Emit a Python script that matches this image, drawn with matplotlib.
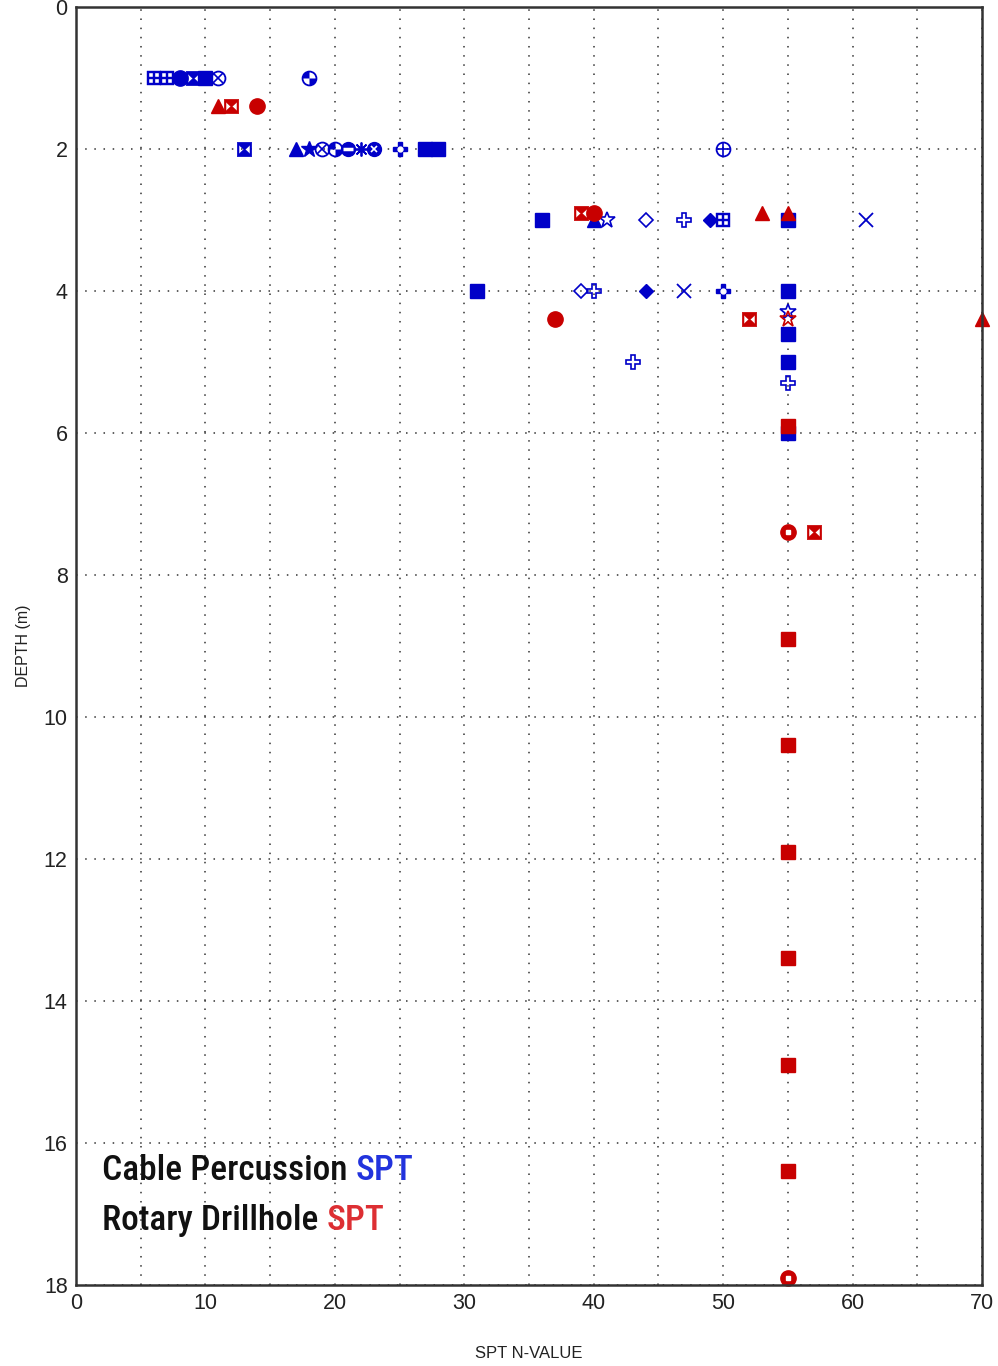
import matplotlib
matplotlib.use('Agg')
import matplotlib.pyplot as plt
import numpy as np
from matplotlib.path import Path

# SPT results: N-value, depth (m) and the borehole symbol used for each test
cable_n = [6, 7, 8, 9, 10, 11, 18,
           13, 17, 18, 19, 20, 21, 22, 23, 25, 27, 28, 50,
           36, 40, 41, 44, 47, 49, 50, 55, 61,
           31, 39, 40, 44, 47, 50, 55,
           55, 55, 55, 43, 55, 55]
cable_depth = [1.0, 1.0, 1.0, 1.0, 1.0, 1.0, 1.0,
               2.0, 2.0, 2.0, 2.0, 2.0, 2.0, 2.0, 2.0, 2.0, 2.0, 2.0, 2.0,
               3.0, 3.0, 3.0, 3.0, 3.0, 3.0, 3.0, 3.0, 3.0,
               4.0, 4.0, 4.0, 4.0, 4.0, 4.0, 4.0,
               4.3, 4.6, 5.0, 5.0, 5.3, 6.0]
cable_sym = ['sqdot', 'sqdot', 'circ', 'bow', 'sq', 'circx', 'quart',
             'bow', 'tri', 'star', 'circx', 'quart', 'circband', 'aster', 'circfill', 'flower_f', 'sq', 'sq', 'circplus',
             'sq', 'tri', 'star_o', 'dia_o', 'flower_o', 'dia', 'sqdot', 'sq', 'xx',
             'sq', 'dia_o', 'flower_o', 'dia', 'xx', 'flower_f', 'sq',
             'star_o', 'sq', 'sq', 'flower_o', 'flower_o', 'sq']

rotary_n = [11, 12, 14,
            39, 40, 53, 55,
            37, 52, 55, 70,
            55, 55, 57,
            55, 55, 55, 55, 55, 55, 55]
rotary_depth = [1.4, 1.4, 1.4,
                2.9, 2.9, 2.9, 2.9,
                4.4, 4.4, 4.4, 4.4,
                5.9, 7.4, 7.4,
                8.9, 10.4, 11.9, 13.4, 14.9, 16.4, 17.9]
rotary_sym = ['tri', 'bow', 'circ',
              'bow', 'circ', 'tri', 'tri',
              'circ', 'bow', 'star_o', 'tri',
              'sq', 'circdot', 'bow',
              'sq', 'sq', 'sq', 'sq', 'sq', 'sq', 'circdot']

BLUE = '#0000c8'
RED = '#c80000'

plt.rcParams['font.family'] = ['Liberation Sans', 'DejaVu Sans']


def square_with_holes(holes):
    # outer square counter-clockwise, holes clockwise so they stay empty
    verts = [(-1, -1), (1, -1), (1, 1), (-1, 1), (-1, -1)]
    codes = [Path.MOVETO] + [Path.LINETO] * 3 + [Path.CLOSEPOLY]
    for h in holes:
        h = list(h)[::-1]
        verts += h + [h[0]]
        codes += [Path.MOVETO] + [Path.LINETO] * (len(h) - 1) + [Path.CLOSEPOLY]
    return Path(verts, codes)


BOWTIE = square_with_holes([
    [(-0.75, -0.6), (-0.1, 0.0), (-0.75, 0.6)],
    [(0.75, 0.6), (0.1, 0.0), (0.75, -0.6)],
])
SQDOT = square_with_holes([
    [(-0.7, 0.2), (-0.2, 0.2), (-0.2, 0.7), (-0.7, 0.7)],
    [(0.2, 0.2), (0.7, 0.2), (0.7, 0.7), (0.2, 0.7)],
    [(-0.7, -0.7), (-0.2, -0.7), (-0.2, -0.2), (-0.7, -0.2)],
    [(0.2, -0.7), (0.7, -0.7), (0.7, -0.2), (0.2, -0.2)],
])
QUART = Path.make_compound_path(Path.wedge(90, 180), Path.wedge(270, 360))


def layers(sym, c):
    ring = dict(marker='o', ms=10, mfc='none', mec=c, mew=1.3)
    table = {
        'sq': [dict(marker='s', ms=10.5, mfc=c, mec=c)],
        'circ': [dict(marker='o', ms=11, mfc=c, mec=c)],
        'tri': [dict(marker='^', ms=10.5, mfc=c, mec=c)],
        'dia': [dict(marker='D', ms=7.5, mfc=c, mec=c)],
        'dia_o': [dict(marker='D', ms=7.5, mfc='none', mec=c, mew=1.2)],
        'xx': [dict(marker='x', ms=10, mec=c, mew=1.3)],
        'star': [dict(marker='*', ms=12, mfc=c, mec=c)],
        'star_o': [dict(marker='*', ms=12, mfc='none', mec=c, mew=1.2)],
        'bow': [dict(marker=BOWTIE, ms=10.5, mfc=c, mec=c, mew=0.3)],
        'sqdot': [dict(marker=SQDOT, ms=10.5, mfc=c, mec=c, mew=0.3)],
        'circx': [ring, dict(marker='x', ms=7, mec=c, mew=1.2)],
        'circplus': [ring, dict(marker='+', ms=10, mec=c, mew=1.2)],
        'quart': [ring, dict(marker=QUART, ms=10, mfc=c, mec=c, mew=0)],
        'circband': [dict(marker='o', ms=10, mfc=c, mec=c),
                     dict(marker='_', ms=7, mec='white', mew=2.5)],
        'aster': [dict(marker=(8, 2, 0), ms=10, mec=c, mew=1.3)],
        'circfill': [dict(marker='o', ms=10, mfc=c, mec=c),
                     dict(marker='x', ms=4, mec='white', mew=1.2)],
        'flower_o': [dict(marker='P', ms=10, mfc='none', mec=c, mew=1.2)],
        'flower_f': [dict(marker='P', ms=10.5, mfc=c, mec=c),
                     dict(marker='o', ms=3.5, mfc='white', mec='white')],
        'circdot': [dict(marker='o', ms=11, mfc=c, mec=c),
                    dict(marker='s', ms=2.5, mfc='white', mec='white')],
    }
    return table[sym]


def plot_spt(ax, n, depth, syms, color):
    n = np.array(n)
    depth = np.array(depth)
    syms = np.array(syms)
    for s in dict.fromkeys(syms):
        m = syms == s
        for lay in layers(s, color):
            ax.plot(n[m], depth[m], linestyle='none', clip_on=False, **lay)


fig = plt.figure(figsize=(9.98, 13.66), dpi=100)
ax = fig.add_axes([0.0762, 0.0593, 0.9078, 0.9356])

plot_spt(ax, cable_n, cable_depth, cable_sym, BLUE)
plot_spt(ax, rotary_n, rotary_depth, rotary_sym, RED)

ax.set_xlim(0, 70)
ax.set_ylim(18, 0)
ax.set_xticks(np.arange(0, 71, 10))
ax.set_xticks(np.arange(5, 70, 10), minor=True)
ax.set_yticks(np.arange(0, 19, 2))
ax.grid(True, which='both', axis='x', color='#333333', linestyle=(0, (1, 5)), linewidth=1.1)
ax.grid(True, which='major', axis='y', color='#333333', linestyle=(0, (1, 5)), linewidth=1.1)
ax.tick_params(which='both', length=0, labelsize=15.5, pad=6, colors='#222222')
for sp in ax.spines.values():
    sp.set_color('#333333')
    sp.set_linewidth(1.8)

ax.set_xlabel('SPT N-VALUE', fontsize=12, labelpad=23, color='#222222')
ax.set_ylabel('DEPTH (m)', fontsize=11.5, labelpad=9, color='#222222')

# legend text, coloured part placed right after the black part
fig.canvas.draw()
renderer = fig.canvas.get_renderer()
legend_font = ['Roboto Condensed', 'Archivo Narrow', 'Liberation Sans']
for txt, tail, col, yv in [('Cable Percussion ', 'SPT', '#2233dd', 16.52),
                           ('Rotary Drillhole ', 'SPT', '#dd2f33', 17.22)]:
    t = ax.text(2.0, yv, txt, fontsize=25.5, family=legend_font, weight='medium',
                color='#111111', va='baseline')
    bb = t.get_window_extent(renderer=renderer)
    x_end = ax.transData.inverted().transform((bb.x1, bb.y0))[0]
    ax.text(x_end, yv, tail, fontsize=25.5, family=legend_font, weight='medium',
            color=col, va='baseline')

fig.savefig('out.png', dpi=100)
